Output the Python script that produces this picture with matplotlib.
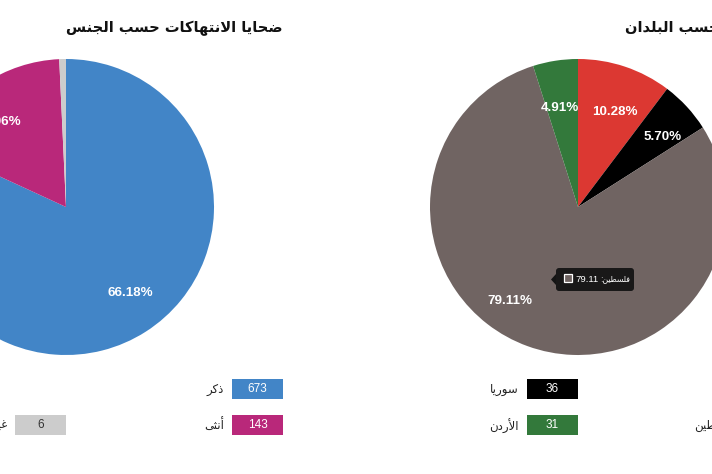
import matplotlib
matplotlib.use("Agg")
import matplotlib.pyplot as plt
from matplotlib.patches import Rectangle, FancyBboxPatch, Polygon

# ---------------- data ----------------
gender_names = ["ذكر", "أنثى", "غير محدد"]
gender_counts = [673, 143, 6]
gender_labels = ["66.18%", "14.06%", ""]
gender_colors = ["#4285c7", "#b9287a", "#cccccc"]

country_names = [None, "سوريا", "فلسطين", "الأردن"]
country_counts = [65, 36, 500, 31]
country_labels = ["10.28%", "5.70%", "79.11%", "4.91%"]
country_colors = ["#dc3832", "#000000", "#706462", "#33793b"]

title_left = "ضحايا الانتهاكات حسب الجنس"
title_right = "ضحايا الانتهاكات حسب البلدان"
tooltip_name = "فلسطين"
tooltip_value = "79.11"

# ---------------- minimal Arabic shaping ----------------
FORMS = {
    '\u0621': ('\uFE80',),
    '\u0622': ('\uFE81', '\uFE82'), '\u0623': ('\uFE83', '\uFE84'),
    '\u0624': ('\uFE85', '\uFE86'), '\u0625': ('\uFE87', '\uFE88'),
    '\u0626': ('\uFE89', '\uFE8A', '\uFE8B', '\uFE8C'),
    '\u0627': ('\uFE8D', '\uFE8E'),
    '\u0628': ('\uFE8F', '\uFE90', '\uFE91', '\uFE92'),
    '\u0629': ('\uFE93', '\uFE94'),
    '\u062A': ('\uFE95', '\uFE96', '\uFE97', '\uFE98'),
    '\u062B': ('\uFE99', '\uFE9A', '\uFE9B', '\uFE9C'),
    '\u062C': ('\uFE9D', '\uFE9E', '\uFE9F', '\uFEA0'),
    '\u062D': ('\uFEA1', '\uFEA2', '\uFEA3', '\uFEA4'),
    '\u062E': ('\uFEA5', '\uFEA6', '\uFEA7', '\uFEA8'),
    '\u062F': ('\uFEA9', '\uFEAA'), '\u0630': ('\uFEAB', '\uFEAC'),
    '\u0631': ('\uFEAD', '\uFEAE'), '\u0632': ('\uFEAF', '\uFEB0'),
    '\u0633': ('\uFEB1', '\uFEB2', '\uFEB3', '\uFEB4'),
    '\u0634': ('\uFEB5', '\uFEB6', '\uFEB7', '\uFEB8'),
    '\u0635': ('\uFEB9', '\uFEBA', '\uFEBB', '\uFEBC'),
    '\u0636': ('\uFEBD', '\uFEBE', '\uFEBF', '\uFEC0'),
    '\u0637': ('\uFEC1', '\uFEC2', '\uFEC3', '\uFEC4'),
    '\u0638': ('\uFEC5', '\uFEC6', '\uFEC7', '\uFEC8'),
    '\u0639': ('\uFEC9', '\uFECA', '\uFECB', '\uFECC'),
    '\u063A': ('\uFECD', '\uFECE', '\uFECF', '\uFED0'),
    '\u0641': ('\uFED1', '\uFED2', '\uFED3', '\uFED4'),
    '\u0642': ('\uFED5', '\uFED6', '\uFED7', '\uFED8'),
    '\u0643': ('\uFED9', '\uFEDA', '\uFEDB', '\uFEDC'),
    '\u0644': ('\uFEDD', '\uFEDE', '\uFEDF', '\uFEE0'),
    '\u0645': ('\uFEE1', '\uFEE2', '\uFEE3', '\uFEE4'),
    '\u0646': ('\uFEE5', '\uFEE6', '\uFEE7', '\uFEE8'),
    '\u0647': ('\uFEE9', '\uFEEA', '\uFEEB', '\uFEEC'),
    '\u0648': ('\uFEED', '\uFEEE'),
    '\u0649': ('\uFEEF', '\uFEF0'),
    '\u064A': ('\uFEF1', '\uFEF2', '\uFEF3', '\uFEF4'),
}
LAMALEF = {'\u0622': ('\uFEF5', '\uFEF6'), '\u0623': ('\uFEF7', '\uFEF8'),
           '\u0625': ('\uFEF9', '\uFEFA'), '\u0627': ('\uFEFB', '\uFEFC')}


def _dual(c):
    return c in FORMS and len(FORMS[c]) == 4


def _joins(c):
    return c in FORMS and len(FORMS[c]) >= 2


def ar(s):
    out = []
    i, n = 0, len(s)
    while i < n:
        c = s[i]
        if c not in FORMS:
            out.append(c)
            i += 1
            continue
        prev = s[i - 1] if i > 0 else ''
        pc = _dual(prev) and _joins(c)
        if c == '\u0644' and i + 1 < n and s[i + 1] in LAMALEF:
            out.append(LAMALEF[s[i + 1]][1 if pc else 0])
            i += 2
            continue
        nxt = s[i + 1] if i + 1 < n else ''
        nc = _dual(c) and _joins(nxt)
        f = FORMS[c]
        if pc and nc:
            g = f[3]
        elif pc:
            g = f[1]
        elif nc:
            g = f[2]
        else:
            g = f[0]
        out.append(g)
        i += 1
    return ''.join(reversed(out))


# ---------------- figure ----------------
W, H = 712, 474
fig = plt.figure(figsize=(W / 100, H / 100), dpi=100)
fig.patch.set_facecolor("white")

AR_FONT = ["DejaVu Sans"]
NUM_FONT = ["Liberation Sans", "DejaVu Sans"]
NARROW_FONT = ["Liberation Sans Narrow", "Liberation Sans", "DejaVu Sans"]

R = 148


def pie_axes(cx, cy):
    ax = fig.add_axes([(cx - R) / W, (H - cy - R) / H, 2 * R / W, 2 * R / H])
    ax.set_axis_off()
    return ax


def draw_pie(ax, counts, colors, labels):
    it = iter(labels)
    wedges, texts, autotexts = ax.pie(
        counts, colors=colors, startangle=90, counterclock=False,
        radius=1.0, autopct=lambda p: next(it), pctdistance=0.71,
        wedgeprops=dict(linewidth=0),
        textprops=dict(color="white", fontsize=9.6, fontweight="bold",
                       family=NUM_FONT))
    ax.set_xlim(-1, 1)
    ax.set_ylim(-1, 1)
    ax.set_aspect("auto")
    return autotexts


axL = pie_axes(66, 207)
atL = draw_pie(axL, gender_counts, gender_colors, gender_labels)
atL[0].set_position((0.432, -0.581))
atL[1].set_position((-0.46, 0.574))

axR = pie_axes(578, 207)
atR = draw_pie(axR, country_counts, country_colors, country_labels)
atR[0].set_position((0.247, 0.645))
atR[1].set_position((0.57, 0.475))
atR[2].set_position((-0.46, -0.635))
atR[3].set_position((-0.12, 0.67))

# overlay in pixel coordinates
ov = fig.add_axes([0, 0, 1, 1])
ov.set_xlim(0, W)
ov.set_ylim(H, 0)
ov.set_axis_off()

# titles
ov.text(283, 28, ar(title_left), ha="right", va="center", fontsize=10.5,
        fontweight="bold", family=AR_FONT, color="#111111")
ov.text(842, 28, ar(title_right), ha="right", va="center", fontsize=10.5,
        fontweight="bold", family=AR_FONT, color="#111111")

# legends
ROWS = [389, 425]


def legend_item(x_sw, row, name, value, color, txtcolor="white"):
    y = ROWS[row]
    ov.add_patch(Rectangle((x_sw, y - 10), 51, 20, facecolor=color,
                           edgecolor="none"))
    ov.text(x_sw + 25.5, y, str(value), ha="center", va="center",
            fontsize=8.5, family=NARROW_FONT, color=txtcolor)
    if name:
        ov.text(x_sw - 8, y + 1, ar(name), ha="right", va="center",
                fontsize=8.5, family=AR_FONT, color="#222222")


legend_item(232, 0, gender_names[0], gender_counts[0], gender_colors[0])
legend_item(232, 1, gender_names[1], gender_counts[1], gender_colors[1])
legend_item(15, 1, gender_names[2], gender_counts[2], gender_colors[2],
            txtcolor="#333333")

legend_item(744, 0, country_names[0], country_counts[0], country_colors[0])
legend_item(744, 1, country_names[2], country_counts[2], country_colors[2])
legend_item(527, 0, country_names[1], country_counts[1], country_colors[1])
legend_item(527, 1, country_names[3], country_counts[3], country_colors[3])

# tooltip
tb = FancyBboxPatch((556, 268), 78, 23, boxstyle="round,pad=0,rounding_size=3",
                    facecolor="#141414", edgecolor="none", alpha=0.95, zorder=5)
ov.add_patch(tb)
ov.add_patch(Polygon([[556, 274], [551, 279.5], [556, 285]], closed=True,
                     facecolor="#141414", edgecolor="none", zorder=5))
ov.add_patch(Rectangle((563.5, 274), 8, 8, facecolor=country_colors[2],
                       edgecolor="white", linewidth=0.9, zorder=6))
ov.text(575, 279, tooltip_value, ha="left", va="center", fontsize=6.8,
        family=NUM_FONT, color="white", zorder=7)
ov.text(630, 279, ":" + ar(tooltip_name), ha="right", va="center",
        fontsize=5.6, family=AR_FONT, color="white", zorder=7)

fig.savefig("out.png", dpi=100, facecolor="white")
